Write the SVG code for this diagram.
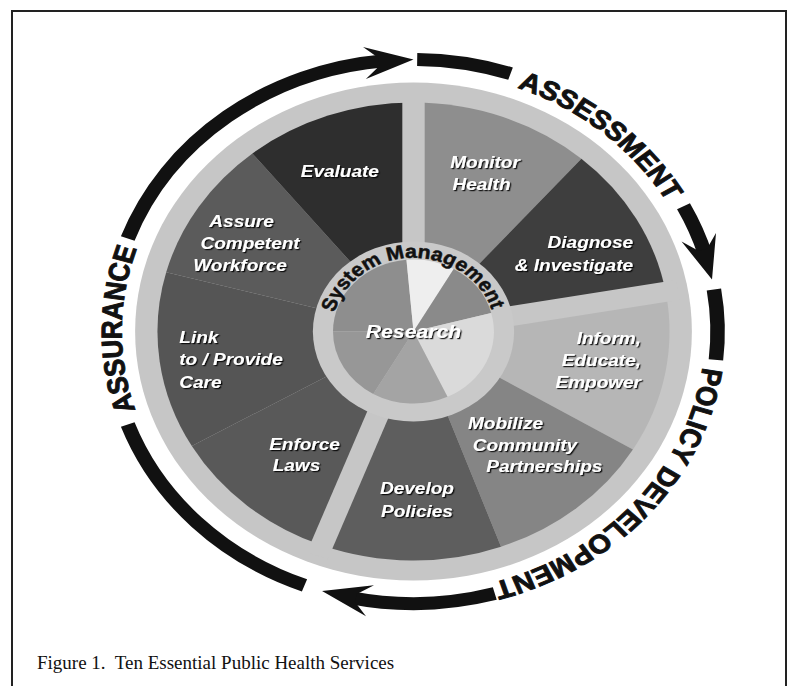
<svg xmlns="http://www.w3.org/2000/svg" width="790" height="686" viewBox="0 0 790 686">
<defs>
<style>
.arrow{fill:none;stroke:#111;stroke-width:13}
.head{fill:#111}
.big{font-family:"Liberation Sans",Arial,sans-serif;font-weight:bold;font-size:26px;fill:#111;stroke:#111;stroke-width:0.9}
.sm{font-family:"Liberation Sans",Arial,sans-serif;font-weight:bold;font-size:19px;fill:#111;stroke:#111;stroke-width:0.5}
.lbl{font-family:"Liberation Sans",Arial,sans-serif;font-weight:bold;font-style:italic;font-size:17px;fill:#fff;filter:url(#sh)}
.res{font-family:"Liberation Sans",Arial,sans-serif;font-weight:bold;font-style:italic;font-size:19px;fill:#fff;filter:url(#sh)}
.spoke{stroke:#c6c6c6;stroke-width:20}
.cap{font-family:"Liberation Serif","Times New Roman",serif;font-size:19px;fill:#111}
</style>
<filter id="sh" x="-20%" y="-50%" width="140%" height="200%">
<feDropShadow dx="1.2" dy="1.2" stdDeviation="0.5" flood-color="#000" flood-opacity="0.85"/>
</filter>
<path id="pAssess" d="M22.8,-260 A261,261 0 0 1 253.2,-63.1"/>
<path id="pPolicy" d="M260,-22.8 A261,261 0 0 1 13.7,260.6"/>
<path id="pAssur" d="M-226,130.5 A261,261 0 0 1 -223.7,-134.4"/>
<path id="pSys" d="M-73,0.96 A73,73 0 0 1 72.97,-2.23"/>
<polygon id="hd" points="0,0 -44,-16 -31,-4 -31,4 -44,16"/>
</defs>
<rect x="12" y="11" width="774" height="700" fill="#fff" stroke="#222" stroke-width="2"/>
<g transform="matrix(1.118 0 0 1 413.5 331.5)">
<circle id="rim" cx="0" cy="0" r="249" fill="#c6c6c6"/>
<g id="monitor"><path d="M0,0 L0,-229 A229,229 0 0 1 150.2,-172.8 Z" fill="#8e8e8e"/>
<text class="lbl" text-anchor="middle"><tspan x="64" y="-163.5">Monitor</tspan><tspan x="60.8" y="-141.5">Health</tspan></text></g>
<g id="diagnose"><path d="M0,0 L150.2,-172.8 A229,229 0 0 1 225.5,-39.8 Z" fill="#3e3e3e"/>
<text class="lbl" text-anchor="end"><tspan x="196.4" y="-83.5">Diagnose</tspan><tspan x="196.4" y="-60.5">&amp; Investigate</tspan></text></g>
<g id="inform"><path d="M0,0 L225.5,-39.8 A229,229 0 0 1 196.3,117.9 Z" fill="#b6b6b6"/>
<text class="lbl" text-anchor="end"><tspan x="203.5" y="12.5">Inform,</tspan><tspan x="203.5" y="34.5">Educate,</tspan><tspan x="203.5" y="56.5">Empower</tspan></text></g>
<g id="mobilize"><path d="M0,0 L196.3,117.9 A229,229 0 0 1 78.3,215.2 Z" fill="#858585"/>
<text class="lbl" text-anchor="middle"><tspan x="82.3" y="98">Mobilize</tspan><tspan x="99.7" y="119.5">Community</tspan><tspan x="117" y="141">Partnerships</tspan></text></g>
<g id="develop"><path d="M0,0 L78.3,215.2 A229,229 0 0 1 -82.1,213.8 Z" fill="#5e5e5e"/>
<text class="lbl" text-anchor="middle"><tspan x="3.1" y="162.5">Develop</tspan><tspan x="3.1" y="185.5">Policies</tspan></text></g>
<g id="enforce"><path d="M0,0 L-82.1,213.8 A229,229 0 0 1 -198.3,114.5 Z" fill="#595959"/>
<text class="lbl" text-anchor="middle"><tspan x="-97.5" y="118.5">Enforce</tspan><tspan x="-104.7" y="140">Laws</tspan></text></g>
<g id="link"><path d="M0,0 L-198.3,114.5 A229,229 0 0 1 -221.2,-59.3 Z" fill="#555555"/>
<text class="lbl"><tspan x="-209.5" y="11.5">Link</tspan><tspan x="-209.5" y="34">to / Provide</tspan><tspan x="-209.5" y="56.5">Care</tspan></text></g>
<g id="assure"><path d="M0,0 L-221.2,-59.3 A229,229 0 0 1 -144.1,-178 Z" fill="#5b5b5b"/>
<text class="lbl" text-anchor="middle"><tspan x="-153.8" y="-104.5">Assure</tspan><tspan x="-146.2" y="-82.5">Competent</tspan><tspan x="-155.2" y="-60.5">Workforce</tspan></text></g>
<g id="evaluate"><path d="M0,0 L-144.1,-178 A229,229 0 0 1 0,-229 Z" fill="#2e2e2e"/>
<text class="lbl" text-anchor="middle" x="-65.9" y="-154.5">Evaluate</text></g>
<g id="spokes">
<line class="spoke" x1="0" y1="0" x2="0" y2="-240"/>
<line class="spoke" x1="0" y1="0" x2="236.4" y2="-41.7"/>
<line class="spoke" x1="0" y1="0" x2="-86" y2="224.1"/>
</g>
<g id="hub">
<circle cx="0" cy="0" r="90" fill="#c9c9c9"/>
<path d="M0,0 L-72,0 A72,72 0 0 1 -6.3,-71.7 Z" fill="#8e8e8e"/>
<path d="M0,0 L-6.3,-71.7 A72,72 0 0 1 36,-62.4 Z" fill="#eeeeee"/>
<path d="M0,0 L36,-62.4 A72,72 0 0 1 69.5,-18.6 Z" fill="#8a8a8a"/>
<path d="M0,0 L69.5,-18.6 A72,72 0 0 1 30.4,65.3 Z" fill="#dadada"/>
<path d="M0,0 L30.4,65.3 A72,72 0 0 1 -36,62.4 Z" fill="#a4a4a4"/>
<path d="M0,0 L-36,62.4 A72,72 0 0 1 -72,0 Z" fill="#979797"/>
<text class="sm"><textPath href="#pSys" startOffset="50%" text-anchor="middle">System Management</textPath></text>
<text class="res" text-anchor="middle" x="0" y="6.5">Research</text>
</g>
<g id="connectors">
<path class="arrow" d="M-255.6,-93 A272,272 0 0 1 -26.1,-270.7"/>
<use href="#hd" class="head" transform="translate(0,-272) rotate(-4.6)"/>
<path class="arrow" d="M3.3,-272 A272,272 0 0 1 86.8,-257.8"/>
<path class="arrow" d="M241.5,-125.2 A272,272 0 0 1 261.5,-75"/>
<use href="#hd" class="head" transform="translate(267,-51.9) rotate(74.4)"/>
<path class="arrow" d="M268.7,-42.1 A272,272 0 0 1 270.5,28.4"/>
<path class="arrow" d="M72.7,262.1 A272,272 0 0 1 -56.6,266.1"/>
<use href="#hd" class="head" transform="translate(-81.8,259.4) rotate(192.9)"/>
<path class="arrow" d="M-97.5,253.9 A272,272 0 0 1 -255.6,93"/>
</g>
<g id="phases">
<text class="big"><textPath href="#pAssess" startOffset="50%" text-anchor="middle">ASSESSMENT</textPath></text>
<text class="big"><textPath href="#pPolicy" startOffset="107" text-anchor="middle">POLICY</textPath></text>
<text class="big"><textPath href="#pPolicy" startOffset="261.5" text-anchor="middle">DEVELOPMENT</textPath></text>
<text class="big"><textPath href="#pAssur" startOffset="50%" text-anchor="middle">ASSURANCE</textPath></text>
</g>
</g>
<text class="cap" x="37" y="669" xml:space="preserve">Figure 1.  Ten Essential Public Health Services</text>
</svg>
